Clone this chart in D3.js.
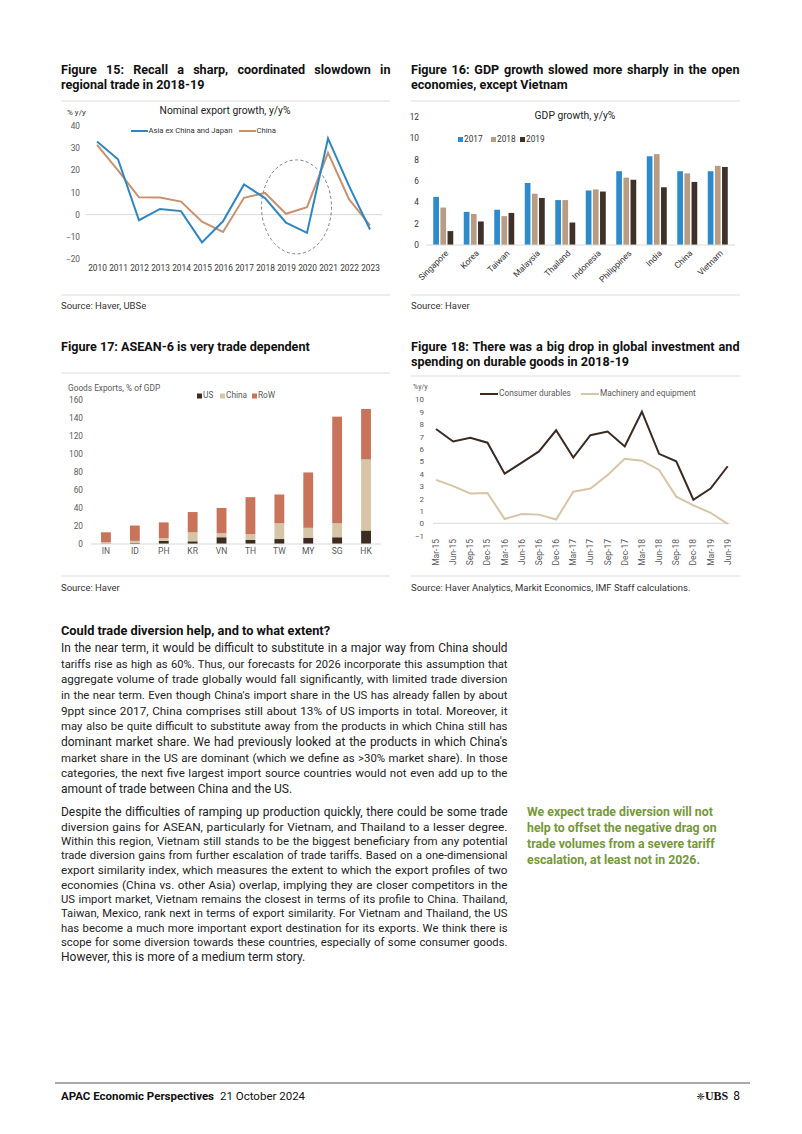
<!DOCTYPE html>
<html><head><meta charset="utf-8">
<script src="https://cdn.jsdelivr.net/npm/d3@7/dist/d3.min.js"></script>
<style>
html,body{margin:0;padding:0;background:#fff;}
svg{display:block;}
</style></head>
<body>
<svg id="page" width="802" height="1134"></svg>
<script>
// ---------- DATA ----------
const f15Years = ["2010","2011","2012","2013","2014","2015","2016","2017","2018","2019","2020","2021","2022","2023"];
const f15Asia  = [33, 25, -2.5, 2.6, 1.6, -12.5, -3, 13.6, 7.5, -3.6, -8.2, 34.4, 13, -6.7];
const f15China = [31.5, 20, 7.8, 7.7, 5.9, -3.2, -7.8, 7.6, 9.8, 0.4, 3.4, 27.9, 7, -4.8];
const f15YTicks = [-20,-10,0,10,20,30,40];

const f16Countries = ["Singapore","Korea","Taiwan","Malaysia","Thailand","Indonesia","Philippines","India","China","Vietnam"];
const f16Years = ["2017","2018","2019"];
const f16G2017 = [4.5, 3.1, 3.3, 5.8, 4.2, 5.1, 6.9, 8.3, 6.9, 6.9];
const f16G2018 = [3.5, 2.9, 2.7, 4.8, 4.2, 5.2, 6.3, 8.5, 6.7, 7.4];
const f16G2019 = [1.3, 2.2, 3.0, 4.4, 2.1, 5.0, 6.1, 5.4, 5.9, 7.3];
const f16YTicks = [0,2,4,6,8,10,12];

const f17Countries = ["IN","ID","PH","KR","VN","TH","TW","MY","SG","HK"];
const f17US    = [0.5, 1, 3.5, 3, 7.5, 4.5, 5.5, 7, 7.5, 15];
const f17China = [1.5, 2.5, 3, 10, 4.5, 6.5, 17.5, 11, 15.5, 79];
const f17RoW   = [11, 17, 17.5, 22.5, 28, 41, 32, 61.5, 118.5, 56];
const f17YTicks = [0,20,40,60,80,100,120,140,160];

const f18Quarters = ["Mar-15","Jun-15","Sep-15","Dec-15","Mar-16","Jun-16","Sep-16","Dec-16","Mar-17","Jun-17","Sep-17","Dec-17","Mar-18","Jun-18","Sep-18","Dec-18","Mar-19","Jun-19"];
const f18Durables  = [7.6, 6.6, 6.9, 6.5, 4.0, 4.9, 5.8, 7.5, 5.3, 7.1, 7.4, 6.2, 9.0, 5.6, 5.0, 1.9, 2.8, 4.6];
const f18Machinery = [3.5, 3.0, 2.4, 2.45, 0.35, 0.75, 0.7, 0.3, 2.55, 2.8, 3.9, 5.2, 5.05, 4.3, 2.15, 1.45, 0.85, -0.05];
const f18YTicks = [-1,0,1,2,3,4,5,6,7,8,9,10];

// ---------- SETUP ----------
const svg = d3.select("#page");
svg.append("rect").attr("width",802).attr("height",1134).attr("fill","#fff");
const SANS = "Roboto, 'Open Sans', 'Noto Sans', sans-serif";
const TICK = "#595959";

function justify(sel, width, fs){
  sel.each(function(){
    const t = d3.select(this);
    const txt = t.text();
    const n = (txt.match(/ /g)||[]).length;
    let w = this.getComputedTextLength();
    const minW = w + n*0.6;
    if (minW > width) {
      const nfs = fs * (width - n*0.6 - 1) / w;
      t.attr("font-size", nfs.toFixed(3));
      w = this.getComputedTextLength();
    }
    if (n) t.attr("word-spacing", Math.max(0, (width - 0.5 - w)/n).toFixed(3));
  });
}
function fitWidth(sel, width, fs){
  sel.each(function(){
    const w = this.getComputedTextLength();
    if (w > width) d3.select(this).attr("font-size", (fs*(width-1)/w).toFixed(3));
  });
}
function textLines(x, y0, dy, lines, opts){
  const g = svg.append("g");
  lines.forEach((ln,i)=>{
    const t = g.append("text").attr("x",x).attr("y",y0+i*dy)
      .attr("font-family",opts.family||SANS).attr("font-size",opts.size)
      .attr("font-weight",opts.weight||"normal").attr("fill",opts.color||"#222")
      .attr("dominant-baseline","middle").text(ln);
    if(opts.justify){
      if(opts.lastJustify || i < lines.length-1) justify(t, opts.justify, opts.size);
      else fitWidth(t, opts.justify, opts.size);
    }
  });
}
function hline(x1,x2,y,color,w){
  svg.append("line").attr("x1",x1).attr("x2",x2).attr("y1",y).attr("y2",y)
    .attr("stroke",color).attr("stroke-width",w);
}

// ---------- FIGURE TITLES ----------
const titleOpts = {size:12.6, weight:"bold", color:"#111"};
textLines(61, 71, 15, ["Figure 15: Recall a sharp, coordinated slowdown in","regional trade in 2018-19"], {...titleOpts, justify:330});
textLines(411, 71, 15, ["Figure 16: GDP growth slowed more sharply in the open","economies, except Vietnam"], {...titleOpts, justify:329});
textLines(61, 348, 15, ["Figure 17: ASEAN-6 is very trade dependent"], titleOpts);
textLines(411, 348, 15, ["Figure 18: There was a big drop in global investment and","spending on durable goods in 2018-19"], {...titleOpts, justify:329});

hline(61, 390, 101, "#e8e8e8", 1.5);
hline(411, 740, 101, "#e8e8e8", 1.5);
hline(61, 390, 373, "#e8e8e8", 1.5);
hline(411, 740, 376, "#e8e8e8", 1.5);
hline(61, 390, 295, "#e8e8e8", 1.5);
hline(411, 740, 295, "#e8e8e8", 1.5);
hline(61, 390, 576, "#e8e8e8", 1.5);
hline(411, 740, 576, "#e8e8e8", 1.5);

const srcOpts = {size:9.5, color:"#333"};
textLines(61, 306, 0, ["Source: Haver, UBSe"], srcOpts);
textLines(411, 306, 0, ["Source: Haver"], srcOpts);
textLines(61, 588, 0, ["Source: Haver"], srcOpts);
textLines(411, 588, 0, ["Source: Haver Analytics, Markit Economics, IMF Staff calculations."], srcOpts);

// ---------- FIGURE 15 ----------
(function(){
  const g = svg.append("g");
  const x = d3.scalePoint().domain(f15Years).range([97, 370]);
  const y = d3.scaleLinear().domain([-20, 40]).range([259, 126]);
  g.append("line").attr("x1",86).attr("x2",382).attr("y1",y(0)).attr("y2",y(0)).attr("stroke","#d9d9d9").attr("stroke-width",1);
  const ya = g.append("g").attr("transform","translate(82,0)")
    .call(d3.axisLeft(y).tickValues(f15YTicks).tickSize(0).tickPadding(2));
  ya.select(".domain").remove();
  ya.selectAll("text").attr("font-family",SANS).attr("font-size",8.3).attr("fill",TICK);
  const xa = g.append("g").attr("transform","translate(0,263)")
    .call(d3.axisBottom(x).tickSize(0).tickPadding(2));
  xa.select(".domain").remove();
  xa.selectAll("text").attr("font-family",SANS).attr("font-size",8.3).attr("fill","#333");
  g.append("ellipse").attr("cx",(x("2019")+x("2020"))/2).attr("cy",y(3.5)).attr("rx",35).attr("ry",47)
    .attr("fill","none").attr("stroke","#7f7f7f").attr("stroke-width",1).attr("stroke-dasharray","3,2.5");
  const line = d3.line().x((d,i)=>x(f15Years[i])).y(d=>y(d));
  g.append("path").datum(f15China).attr("d",line).attr("fill","none").attr("stroke","#c8916f").attr("stroke-width",2);
  g.append("path").datum(f15Asia).attr("d",line).attr("fill","none").attr("stroke","#2e86c1").attr("stroke-width",2);
  g.append("text").attr("x",225).attr("y",111).attr("text-anchor","middle").attr("dominant-baseline","middle")
    .attr("font-family",SANS).attr("font-size",10.3).attr("fill","#222").text("Nominal export growth, y/y%");
  g.append("text").attr("x",67).attr("y",113).attr("dominant-baseline","middle")
    .attr("font-family",SANS).attr("font-size",8).attr("fill","#333").text("% y/y");
  const leg = [["Asia ex China and Japan","#2e86c1",131],["China","#c8916f",239]];
  leg.forEach(([lab,c,lx])=>{
    g.append("line").attr("x1",lx).attr("x2",lx+17).attr("y1",131).attr("y2",131).attr("stroke",c).attr("stroke-width",2);
    g.append("text").attr("x",lx+17.5).attr("y",131).attr("dominant-baseline","middle")
      .attr("font-family",SANS).attr("font-size",7.7).attr("fill","#333").text(lab);
  });
})();

// ---------- FIGURE 16 ----------
(function(){
  const g = svg.append("g");
  const x0 = d3.scaleBand().domain(f16Countries).range([428, 733]);
  const x1 = d3.scaleBand().domain(f16Years).range([0, 20]).paddingInner(0.2);
  const y = d3.scaleLinear().domain([0, 12]).range([245, 116.7]);
  const colors = {"2017":"#2e8bcb","2018":"#b99c84","2019":"#3e3129"};
  const series = {"2017":f16G2017,"2018":f16G2018,"2019":f16G2019};
  const ya = g.append("g").attr("transform","translate(421,0)")
    .call(d3.axisLeft(y).tickValues(f16YTicks).tickSize(0).tickPadding(2));
  ya.select(".domain").remove();
  ya.selectAll("text").attr("font-family",SANS).attr("font-size",8.3).attr("fill","#333");
  f16Years.forEach(yr=>{
    g.selectAll(null).data(series[yr]).enter().append("rect")
      .attr("x",(d,i)=>x0(f16Countries[i]) + x0.bandwidth()/2 - 10 + x1(yr))
      .attr("width",x1.bandwidth())
      .attr("y",d=>y(d)).attr("height",d=>y(0)-y(d))
      .attr("fill",colors[yr]);
  });
  g.append("line").attr("x1",426).attr("x2",735).attr("y1",y(0)).attr("y2",y(0)).attr("stroke","#d9d9d9").attr("stroke-width",1);
  const xa = g.append("g").attr("transform","translate(0,248)")
    .call(d3.axisBottom(x0).tickSize(0).tickPadding(0));
  xa.select(".domain").remove();
  xa.selectAll("text").attr("font-family",SANS).attr("font-size",8.5).attr("fill","#333")
    .attr("text-anchor","end").attr("dy","0.3em").attr("transform","translate(4,4) rotate(-45)");
  g.append("text").attr("x",575).attr("y",116).attr("text-anchor","middle").attr("dominant-baseline","middle")
    .attr("font-family",SANS).attr("font-size",10.3).attr("fill","#222").text("GDP growth, y/y%");
  [["2017",458],["2018",491],["2019",520]].forEach(([lab,lx])=>{
    g.append("rect").attr("x",lx).attr("y",137).attr("width",5).attr("height",5).attr("fill",colors[lab]);
    g.append("text").attr("x",lx+6).attr("y",140).attr("dominant-baseline","middle")
      .attr("font-family",SANS).attr("font-size",8.3).attr("fill","#333").text(lab);
  });
})();

// ---------- FIGURE 17 ----------
(function(){
  const g = svg.append("g");
  const x = d3.scaleBand().domain(f17Countries).range([91.5, 380.5]).paddingInner(0.66).paddingOuter(0.33);
  const y = d3.scaleLinear().domain([0, 160]).range([544, 400]);
  const keys = ["US","China","RoW"];
  const colors = {US:"#3b2b20", China:"#d6c5a6", RoW:"#c8735a"};
  const rows = f17Countries.map((c,i)=>({c, US:f17US[i], China:f17China[i], RoW:f17RoW[i]}));
  const stack = d3.stack().keys(keys)(rows);
  const ya = g.append("g").attr("transform","translate(85,0)")
    .call(d3.axisLeft(y).tickValues(f17YTicks).tickSize(0).tickPadding(2));
  ya.select(".domain").remove();
  ya.selectAll("text").attr("font-family",SANS).attr("font-size",8.3).attr("fill",TICK);
  stack.forEach(s=>{
    g.selectAll(null).data(s).enter().append("rect")
      .attr("x",d=>x(d.data.c)).attr("width",x.bandwidth())
      .attr("y",d=>y(d[1])).attr("height",d=>y(d[0])-y(d[1]))
      .attr("fill",colors[s.key]);
  });
  g.append("line").attr("x1",91).attr("x2",381).attr("y1",y(0)).attr("y2",y(0)).attr("stroke","#d9d9d9").attr("stroke-width",1);
  const xa = g.append("g").attr("transform","translate(0,549)")
    .call(d3.axisBottom(x).tickSize(0).tickPadding(0));
  xa.select(".domain").remove();
  xa.selectAll("text").attr("font-family",SANS).attr("font-size",8.5).attr("fill",TICK).attr("dy","0.55em");
  g.append("text").attr("x",68).attr("y",389).attr("dominant-baseline","middle")
    .attr("font-family",SANS).attr("font-size",8.3).attr("fill",TICK).text("Goods Exports, % of GDP");
  [["US",197],["China",220],["RoW",252]].forEach(([lab,lx])=>{
    g.append("rect").attr("x",lx).attr("y",393.5).attr("width",5).attr("height",5).attr("fill",colors[lab]);
    g.append("text").attr("x",lx+6).attr("y",396).attr("dominant-baseline","middle")
      .attr("font-family",SANS).attr("font-size",8.3).attr("fill",TICK).text(lab);
  });
})();

// ---------- FIGURE 18 ----------
(function(){
  const g = svg.append("g");
  const x = d3.scalePoint().domain(f18Quarters).range([436, 727.7]);
  const y = d3.scaleLinear().domain([-1, 10]).range([535.7, 399.3]);
  g.append("line").attr("x1",433).attr("x2",730).attr("y1",y(0)).attr("y2",y(0)).attr("stroke","#d9d9d9").attr("stroke-width",1);
  const ya = g.append("g").attr("transform","translate(426,0)")
    .call(d3.axisLeft(y).tickValues(f18YTicks).tickSize(0).tickPadding(2));
  ya.select(".domain").remove();
  ya.selectAll("text").attr("font-family",SANS).attr("font-size",8).attr("fill",TICK);
  const line = d3.line().x((d,i)=>x(f18Quarters[i])).y(d=>y(d));
  g.append("path").datum(f18Machinery).attr("d",line).attr("fill","none").attr("stroke","#d8c4a6").attr("stroke-width",2);
  g.append("path").datum(f18Durables).attr("d",line).attr("fill","none").attr("stroke","#3a2a22").attr("stroke-width",2);
  const xa = g.append("g").attr("transform","translate(0,539)")
    .call(d3.axisBottom(x).tickSize(0).tickPadding(0));
  xa.select(".domain").remove();
  xa.selectAll(".tick").attr("transform","translate(0,0)");
  xa.selectAll("text").attr("font-family",SANS).attr("font-size",8.5).attr("fill",TICK)
    .attr("text-anchor","end").attr("dy","0.35em").attr("x",0).attr("y",0)
    .each(function(d){ d3.select(this).attr("transform",`translate(${x(d)},0) rotate(-90)`); });
  g.append("text").attr("x",413).attr("y",387).attr("dominant-baseline","middle")
    .attr("font-family",SANS).attr("font-size",7).attr("fill",TICK).text("%y/y");
  [["Consumer durables","#3a2a22",480],["Machinery and equipment","#d8c4a6",581]].forEach(([lab,c,lx])=>{
    g.append("line").attr("x1",lx).attr("x2",lx+18).attr("y1",394).attr("y2",394).attr("stroke",c).attr("stroke-width",2);
    g.append("text").attr("x",lx+19).attr("y",394).attr("dominant-baseline","middle")
      .attr("font-family",SANS).attr("font-size",8.3).attr("fill",TICK).text(lab);
  });
})();

// ---------- BODY TEXT ----------
textLines(61, 632, 0, ["Could trade diversion help, and to what extent?"], {size:12.8, weight:"bold", color:"#111"});
const para1 = [
"In the near term, it would be difficult to substitute in a major way from China should",
"tariffs rise as high as 60%. Thus, our forecasts for 2026 incorporate this assumption that",
"aggregate volume of trade globally would fall significantly, with limited trade diversion",
"in the near term. Even though China's import share in the US has already fallen by about",
"9ppt since 2017, China comprises still about 13% of US imports in total. Moreover, it",
"may also be quite difficult to substitute away from the products in which China still has",
"dominant market share. We had previously looked at the products in which China's",
"market share in the US are dominant (which we define as >30% market share). In those",
"categories, the next five largest import source countries would not even add up to the",
"amount of trade between China and the US."];
textLines(61, 649, 15.65, para1, {size:12.0, color:"#222", justify:447});
const para2 = [
"Despite the difficulties of ramping up production quickly, there could be some trade",
"diversion gains for ASEAN, particularly for Vietnam, and Thailand to a lesser degree.",
"Within this region, Vietnam still stands to be the biggest beneficiary from any potential",
"trade diversion gains from further escalation of trade tariffs. Based on a one-dimensional",
"export similarity index, which measures the extent to which the export profiles of two",
"economies (China vs. other Asia) overlap, implying they are closer competitors in the",
"US import market, Vietnam remains the closest in terms of its profile to China. Thailand,",
"Taiwan, Mexico, rank next in terms of export similarity. For Vietnam and Thailand, the US",
"has become a much more important export destination for its exports. We think there is",
"scope for some diversion towards these countries, especially of some consumer goods.",
"However, this is more of a medium term story."];
textLines(61, 813, 14.5, para2, {size:12.0, color:"#222", justify:447});
textLines(527, 813, 15.9, [
"We expect trade diversion will not",
"help to offset the negative drag on",
"trade volumes from a severe tariff",
"escalation, at least not in 2026."], {size:12.3, weight:"bold", color:"#76983a"});

// ---------- FOOTER ----------
hline(55, 750, 1083, "#555", 1);
svg.append("text").attr("x",61).attr("y",1097).attr("dominant-baseline","middle")
  .attr("font-family",SANS).attr("font-size",11.5).attr("fill","#111")
  .call(t=>{ t.append("tspan").attr("font-weight","bold").text("APAC Economic Perspectives");
             t.append("tspan").attr("dx",6).text("21 October 2024"); });
svg.append("text").attr("x",740).attr("y",1097).attr("text-anchor","end").attr("dominant-baseline","middle")
  .attr("font-family",SANS).attr("font-size",12).attr("fill","#111")
  .call(t=>{ t.append("tspan").attr("font-family","'DejaVu Sans'").attr("font-size",10).text("❈");
             t.append("tspan").attr("font-family","'Liberation Serif', serif").attr("font-weight","bold").text("UBS");
             t.append("tspan").attr("dx",5).text("8"); });
</script>
</body></html>
